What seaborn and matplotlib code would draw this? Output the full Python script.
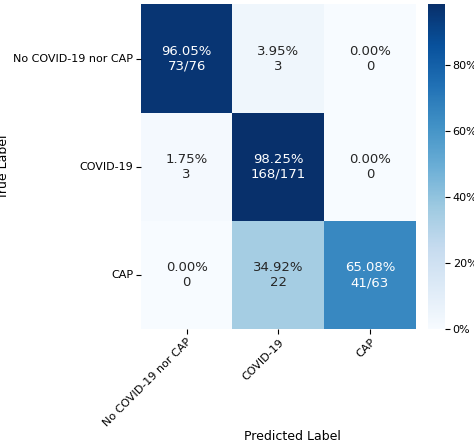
import numpy as np
import matplotlib
matplotlib.use("Agg")
import matplotlib.pyplot as plt
import seaborn as sns
from matplotlib.ticker import FuncFormatter

labels = ["No COVID-19 nor CAP", "COVID-19", "CAP"]
counts = [[73, 3, 0], [3, 168, 0], [0, 22, 41]]
totals = [76, 171, 63]

cm = np.array(counts, dtype=float)
pct = cm / np.array(totals)[:, None] * 100
annot = [["" for j in range(3)] for i in range(3)]
for i in range(3):
    for j in range(3):
        c = counts[i][j]
        s = f"{c}/{totals[i]}" if i == j else f"{c}"
        annot[i][j] = f"{pct[i, j]:.2f}%\n{s}"

fig = plt.figure(figsize=(4.74, 4.42), dpi=100)
ax = fig.add_axes([0.297, 0.255, 0.58, 0.735])
cax = fig.add_axes([0.903, 0.255, 0.036, 0.735])
sns.heatmap(pct, annot=np.array(annot), fmt="", cmap="Blues", ax=ax, cbar_ax=cax,
            xticklabels=labels, yticklabels=labels, annot_kws={"size": 9.5},
            vmin=0, vmax=pct.max())
cax.yaxis.set_major_formatter(FuncFormatter(lambda v, p: f"{v:.0f}%"))
cax.tick_params(labelsize=8, pad=2)
ax.set_xticklabels(labels, rotation=45, ha="right", rotation_mode="anchor", fontsize=8)
ax.set_yticklabels(labels, rotation=0, fontsize=8)
ax.tick_params(pad=2)
ax.set_xlabel("Predicted Label", fontsize=9)
ax.set_ylabel("True Label", fontsize=9)
ax.xaxis.set_label_coords(0.55, -0.31)
ax.yaxis.set_label_coords(-0.475, 0.5)
fig.savefig("out.png", dpi=100)
